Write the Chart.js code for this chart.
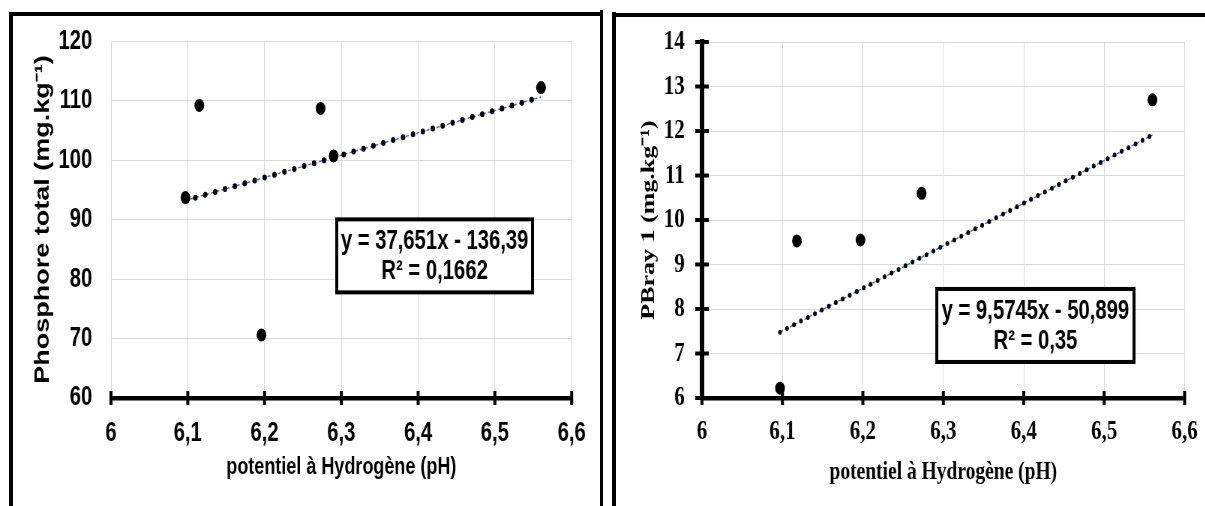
<!DOCTYPE html>
<html>
<head>
<meta charset="utf-8">
<script src="https://cdn.jsdelivr.net/npm/chart.js@4.4.0/dist/chart.umd.min.js"></script>
<style>
  html, body { margin: 0; padding: 0; background: #fff; }
  body { width: 1205px; height: 506px; position: relative; overflow: hidden; }
  /* the original figure was squeezed horizontally, so the charts are drawn wider and shrunk */
  .panel { position: absolute; top: 0; height: 506px; transform: scaleX(0.75); transform-origin: 0 0; }
  #p1 { left: 0; width: 793px; }
  #p2 { left: 600px; width: 807px; }
  .frame { position: absolute; background: #000; }
</style>
</head>
<body>
<div class="panel" id="p1"><canvas id="chartPtotal"></canvas></div>
<div class="panel" id="p2"><canvas id="chartPBray"></canvas></div>
<div class="frame" style="left:9px;top:12px;width:4px;height:494px"></div>
<div class="frame" style="left:9px;top:12px;width:594px;height:4px"></div>
<div class="frame" style="left:600px;top:10px;width:3px;height:496px"></div>
<div class="frame" style="left:612px;top:12px;width:4px;height:494px"></div>
<div class="frame" style="left:612px;top:13px;width:593px;height:4px"></div>
<script>
// pH / phosphore total
const phPtotal = [6.097, 6.115, 6.196, 6.273, 6.29, 6.56];
const ptotal = [93.7, 109.2, 70.6, 108.7, 100.7, 112.2];
const trendPtotalX = [6.097, 6.56];
const trendPtotalY = [93.2, 110.6];
const eqPtotal = ['y = 37,651x - 136,39', 'R² = 0,1662'];

// pH / PBray 1
const phPBray = [6.097, 6.118, 6.197, 6.273, 6.56];
const pBray = [6.22, 9.53, 9.55, 10.6, 12.7];
const trendPBrayX = [6.097, 6.56];
const trendPBrayY = [7.48, 11.91];
const eqPBray = ['y = 9,5745x - 50,899', 'R² = 0,35'];

// axes
const xTicks = [6, 6.1, 6.2, 6.3, 6.4, 6.5, 6.6];
const xTickLabels = ['6', '6,1', '6,2', '6,3', '6,4', '6,5', '6,6'];
const yTicksPtotal = [60, 70, 80, 90, 100, 110, 120];
const yTicksPBray = [6, 7, 8, 9, 10, 11, 12, 13, 14];

function toPoints(xs, ys) {
    return xs.map((x, i) => ({ x: x, y: ys[i] }));
}

// ticks crossing the black axes + the equation box
const decorPlugin = {
    id: 'decor',
    afterDraw(chart, args, opts) {
        const ctx = chart.ctx;
        const area = chart.chartArea;
        const sx = chart.scales.x;
        const sy = chart.scales.y;
        ctx.save();
        ctx.strokeStyle = '#000';
        ctx.lineWidth = 4;
        if (opts.crossX) {
            sx.ticks.forEach(t => {
                const px = sx.getPixelForValue(t.value);
                ctx.beginPath();
                ctx.moveTo(px, area.bottom - 7);
                ctx.lineTo(px, area.bottom + 7);
                ctx.stroke();
            });
        }
        if (opts.crossY) {
            sy.ticks.forEach(t => {
                const py = sy.getPixelForValue(t.value);
                ctx.beginPath();
                ctx.moveTo(area.left - 9, py);
                ctx.lineTo(area.left + 9, py);
                ctx.stroke();
            });
        }
        const b = opts.box;
        const cx = sx.getPixelForValue(b.x);
        const cy = sy.getPixelForValue(b.y);
        ctx.fillStyle = '#fff';
        ctx.fillRect(cx - b.w / 2, cy - b.h / 2, b.w, b.h);
        ctx.strokeRect(cx - b.w / 2, cy - b.h / 2, b.w, b.h);
        ctx.fillStyle = '#000';
        ctx.font = 'bold 27px "Liberation Sans", Arial, sans-serif';
        ctx.textAlign = 'center';
        ctx.textBaseline = 'middle';
        b.lines.forEach((s, i) => ctx.fillText(s, cx, cy - 14 + i * 30));
        ctx.restore();
    }
};

function makeChart(id, o) {
    return new Chart(document.getElementById(id), {
        type: 'scatter',
        data: {
            datasets: [
                { data: o.points, pointRadius: 6.5, pointHoverRadius: 6.5, backgroundColor: '#000', borderColor: '#000', borderWidth: 0 },
                { data: o.trend, showLine: true, pointRadius: 0, borderColor: '#000', borderWidth: o.dotSize,
                  borderDash: [0, o.dotGap], borderCapStyle: 'round', fill: false },
                { data: o.trend, showLine: true, pointRadius: 0, borderColor: '#4472c4', borderWidth: 1.5,
                  borderDash: [4, 3], fill: false }
            ]
        },
        options: {
            responsive: true,
            maintainAspectRatio: false,
            animation: false,
            events: [],
            layout: { padding: { left: 0, right: o.padRight, top: o.padTop, bottom: 0 } },
            plugins: {
                legend: { display: false },
                tooltip: { enabled: false },
                decor: { crossX: true, crossY: o.blackY, box: o.box }
            },
            scales: {
                x: {
                    type: 'linear', min: 6, max: 6.6,
                    afterBuildTicks: s => { s.ticks = xTicks.map(v => ({ value: v })); },
                    afterFit: s => { s.height = 108; },
                    ticks: { callback: (v, i) => xTickLabels[i], padding: o.xTickPad, color: '#000',
                             font: o.tickFont, maxRotation: 0, autoSkip: false },
                    grid: { color: '#d9d9d9', lineWidth: 1, drawTicks: true, tickLength: 7, tickColor: 'rgba(0,0,0,0)' },
                    border: { display: true, color: '#000', width: 4.5 },
                    title: { display: true, text: 'potentiel à Hydrogène (pH)', color: '#000', font: o.titleFont,
                             padding: { top: 0, bottom: o.xTitlePad } }
                },
                y: {
                    type: 'linear', min: o.yTicks[0], max: o.yTicks[o.yTicks.length - 1],
                    afterBuildTicks: s => { s.ticks = o.yTicks.map(v => ({ value: v })); },
                    afterFit: s => { s.width = o.yWidth; },
                    ticks: { padding: o.yTickPad, color: '#000', font: o.tickFont },
                    grid: o.blackY
                        ? { color: '#d9d9d9', lineWidth: 1, drawTicks: true, tickLength: 7, tickColor: 'rgba(0,0,0,0)' }
                        : { color: '#d9d9d9', lineWidth: 1, drawTicks: false },
                    border: o.blackY ? { display: true, color: '#000', width: 6 } : { display: true, color: '#d9d9d9', width: 1 },
                    title: { display: true, text: o.yTitle, color: '#000', font: o.yTitleFont,
                             padding: { top: o.yTitlePad, bottom: 0 } }
                }
            }
        },
        plugins: [decorPlugin]
    });
}

makeChart('chartPtotal', {
    points: toPoints(phPtotal, ptotal),
    trend: toPoints(trendPtotalX, trendPtotalY),
    dotSize: 6, dotGap: 13.5,
    padRight: 21, padTop: 39,
    yTicks: yTicksPtotal, yWidth: 148, blackY: false,
    tickFont: { family: '"Liberation Sans", Arial, sans-serif', size: 27, weight: 'bold' },
    titleFont: { family: '"Liberation Sans", Arial, sans-serif', size: 24, weight: 'bold' },
    yTitleFont: { family: '"Liberation Sans", Arial, sans-serif', size: 27, weight: 'bold' },
    xTickPad: 12, yTickPad: 25, xTitlePad: 24, yTitlePad: 41,
    yTitle: 'Phosphore total (mg.kg⁻¹)',
    box: { x: 6.4215, y: 83.9, w: 261, h: 73, lines: eqPtotal }
});

makeChart('chartPBray', {
    points: toPoints(phPBray, pBray),
    trend: toPoints(trendPBrayX, trendPBrayY),
    dotSize: 5, dotGap: 10,
    padRight: 26, padTop: 42,
    yTicks: yTicksPBray, yWidth: 136, blackY: true,
    tickFont: { family: '"Liberation Serif", "Times New Roman", serif', size: 28, weight: 'bold' },
    titleFont: { family: '"Liberation Serif", "Times New Roman", serif', size: 26, weight: 'bold' },
    yTitleFont: { family: '"Liberation Serif", "Times New Roman", serif', size: 26, weight: 'bold' },
    xTickPad: 10, yTickPad: 16, xTitlePad: 18, yTitlePad: 50,
    yTitle: 'PBray 1 (mg.kg⁻¹)',
    box: { x: 6.4145, y: 7.63, w: 263, h: 73, lines: eqPBray }
});
</script>
</body>
</html>
